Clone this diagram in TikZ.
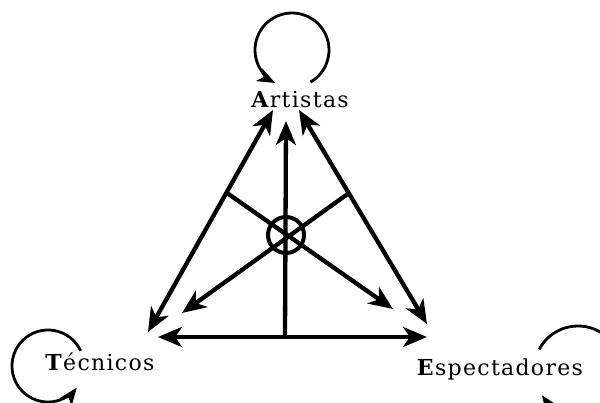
\documentclass[tikz,border=0pt]{standalone}
\usepackage{fontspec}
\setmainfont{DejaVu Serif}
\usetikzlibrary{arrows.meta}
\tikzset{
  lbl/.style={inner sep=0pt, font=\fontsize{22}{24}\selectfont\addfontfeature{LetterSpace=6}},
  main/.style={line width=4.3pt, -{Stealth[length=24pt,width=20pt,inset=7pt]}},
  both/.style={line width=4.3pt, {Stealth[length=24pt,width=20pt,inset=7pt]}-{Stealth[length=24pt,width=20pt,inset=7pt]}},
  loop/.style={line width=2.8pt, -{Stealth[length=18pt,width=14pt,inset=5pt]}},
}
\begin{document}
\begin{tikzpicture}[x=1pt,y=-1pt]
\useasboundingbox (0,0) rectangle (600,403);
\clip (0,0) rectangle (600,403);
% labels
\node[lbl] (A) at (300,100) {\textbf{A}rtistas};
\node[lbl] (T) at (100,362) {\textbf{T}écnicos};
\node[lbl] (E) at (500,369) {\textbf{E}spectadores};
% arrow endpoints
\coordinate (Atl) at (273,110);
\coordinate (Atr) at (299,110);
\coordinate (Atm) at (286,121);
\coordinate (Tl) at (148,332);
\coordinate (Tb) at (158,337);
\coordinate (Er) at (427,324);
\coordinate (Eb) at (427,337);
\coordinate (Bm) at (285,337);
\coordinate (C) at (286,235);
\coordinate (Lm) at (227,193);
\coordinate (Rm) at (349,193);
\coordinate (LLt) at (182,313);
\coordinate (LRt) at (393,309);
% triangle
\draw[both] (Tl) -- (Atl);
\draw[both] (Er) -- (Atr);
\draw[both] (Tb) -- (Eb);
\draw[main] (Bm) -- (Atm);
% spokes
\draw[main] (Lm) -- (LRt);
\draw[main] (Rm) -- (LLt);
\node[draw, circle, line width=4pt, minimum size=36pt, inner sep=0pt] (O) at (C) {};
% loops
\draw[loop] ([shift={(60:37)}]292,50) arc[start angle=60, end angle=-243, radius=37];
\draw[loop] ([shift={(-25:36)}]48,366) arc[start angle=-25, end angle=-323, radius=36];
\draw[loop] ([shift={(-152:44)}]578,370) arc[start angle=-152, end angle=145, radius=44];
\end{tikzpicture}
\end{document}
